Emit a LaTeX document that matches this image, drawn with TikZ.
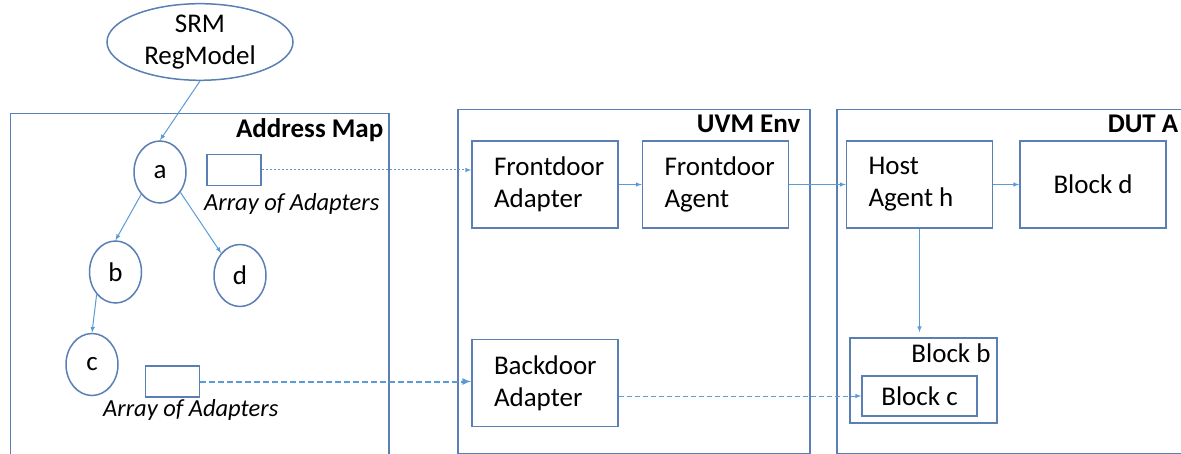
\documentclass[tikz,border=0pt]{standalone}
\usepackage{fontspec}
\setmainfont{Carlito}
\usepackage{xcolor}
\usepackage{tikz}
\usetikzlibrary{arrows}
\usetikzlibrary{shapes.geometric}
\definecolor{boxcolor}{HTML}{5A7FB5}
\definecolor{linkcolor}{HTML}{5B9BD5}

\tikzset{
  every node/.style={font=\fontsize{27}{32}\selectfont, text=black},
  frame/.style={draw=boxcolor, line width=1.5pt, anchor=north west, inner sep=0pt},
  title/.style={font=\fontsize{27}{32}\selectfont\bfseries, anchor=base east, inner sep=0pt},
  block/.style={draw=boxcolor, line width=1.5pt, minimum height=87pt, text width=102pt,
    inner xsep=22pt, inner ysep=2pt, align=left,
    execute at begin node={\spaceskip=6pt\relax}},
  regnode/.style={ellipse, draw=boxcolor, line width=1.5pt, minimum width=52pt,
    minimum height=62pt, inner sep=0pt},
  adapter/.style={draw=boxcolor, line width=1.5pt, minimum width=54pt, minimum height=31pt, inner sep=0pt},
  adlabel/.style={font=\fontsize{24.5}{30}\selectfont\itshape, anchor=base west, inner sep=0pt},
  link/.style={draw=linkcolor, line width=1pt, -latex}
}

\begin{document}
\begin{tikzpicture}[x=1pt,y=-1pt]
  \useasboundingbox (0,0) rectangle (1181,454);
  \clip (0,0) rectangle (1181,454);
%% containers
  \node[frame, minimum width=378.5pt, minimum height=360pt] (addrmap) at (9.5,113) {};
  \node[frame, minimum width=352pt, minimum height=344pt] (uvmenv) at (457,109) {};
  \node[frame, minimum width=351pt, minimum height=344pt] (duta) at (836,109) {};
  \node[title] (addrmaptitle) at ([shift={(-6,25)}]addrmap.north east) {Address Map};
  \node[title] (uvmenvtitle) at ([shift={(-10,24)}]uvmenv.north east) {UVM Env};
  \node[title] (dutatitle) at ([shift={(-10,24)}]duta.north east) {DUT A};
%% register model
  \node[ellipse, draw=boxcolor, line width=1.5pt, minimum width=186pt, minimum height=69pt,
    inner sep=0pt, align=center] (srm) at (200,42) {SRM\\RegModel};
  \node[regnode] (a) at (160,172) {a};
  \node[regnode] (b) at (115.5,272) {b};
  \node[regnode] (d) at (240,275.5) {d};
  \node[regnode] (c) at (92,364.5) {c};
  \node[adapter] (arr1) at (234,170) {};
  \node[adapter] (arr2) at (172.5,381.5) {};
  \node[adlabel] (arr1text) at (204,211) {Array of Adapters};
  \node[adlabel] (arr2text) at (103,416) {Array of Adapters};
%% env and dut blocks
  \node[block] (fdadapter) at (545,184.5) {Frontdoor\\Adapter};
  \node[block] (fdagent) at (715.5,184.5) {Frontdoor\\Agent};
  \node[block] (bdadapter) at (545,383) {Backdoor\\Adapter};
  \node[block] (host) at (919.5,184.5) {Host\\Agent h};
  \node[block, align=center] (blockd) at (1093,184.5) {Block d};
  \node[draw=boxcolor, line width=1.5pt, minimum width=147pt, minimum height=85pt, inner sep=0pt] (blockb) at (923.5,380.5) {};
  \node[title, font=\fontsize{27}{32}\selectfont] (blockbtitle) at ([shift={(-7,25)}]blockb.north east) {Block b};
  \node[draw=boxcolor, line width=1.5pt, minimum width=115pt, minimum height=40pt, inner sep=0pt] (blockc) at (919.5,396) {Block c};
%% connections
  \draw[link] (srm.south) -- (a.north);
  \draw[link] (a.230) -- (b.north);
  \draw[link] (a.315) -- (d.north west);
  \draw[link] (b.230) -- (c.north);
  \draw[link, dash pattern=on 2pt off 2pt] (arr1.east) -- (arr1.east -| fdadapter.west);
  \draw[link, line width=2pt, dash pattern=on 6pt off 3pt] (arr2.east) -- (arr2.east -| bdadapter.west);
  \draw[link] (fdadapter.east) -- (fdagent.west);
  \draw[link] (fdagent.east) -- (host.west);
  \draw[link] (host.east) -- (blockd.west);
  \draw[link, shorten >=5pt] (host.south) -- (host.south |- blockb.north);
  \draw[link, dash pattern=on 5pt off 3pt] (blockc.west -| bdadapter.east) -- (blockc.west);
\end{tikzpicture}
\end{document}
